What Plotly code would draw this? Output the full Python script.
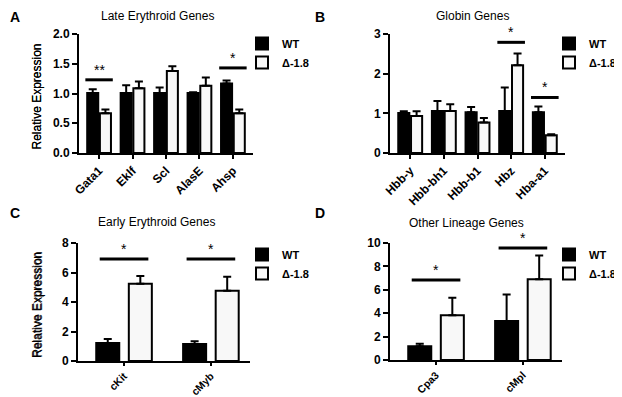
import plotly.graph_objects as go

# ---------------- data ----------------
genes_A = ["Gata1", "Eklf", "Scl", "AlasE", "Ahsp"]
wt_A = [1.01, 1.01, 1.01, 1.01, 1.17]
wt_A_err = [0.06, 0.13, 0.09, 0.01, 0.05]
del_A = [0.67, 1.09, 1.38, 1.13, 0.67]
del_A_err = [0.06, 0.11, 0.08, 0.14, 0.06]
sig_A = [("Gata1", 1.23, "**"), ("Ahsp", 1.43, "*")]

genes_B = ["Hbb-y", "Hbb-bh1", "Hbb-b1", "Hbz", "Hba-a1"]
wt_B = [1.01, 1.06, 1.03, 1.06, 1.03]
wt_B_err = [0.04, 0.25, 0.13, 0.59, 0.14]
del_B = [0.93, 1.06, 0.77, 2.21, 0.45]
del_B_err = [0.12, 0.17, 0.11, 0.30, 0.02]
sig_B = [("Hbz", 2.79, "*"), ("Hba-a1", 1.40, "*")]

genes_C = ["cKit", "cMyb"]
wt_C = [1.22, 1.15]
wt_C_err = [0.28, 0.19]
del_C = [5.23, 4.77]
del_C_err = [0.53, 0.94]
sig_C = [("cKit", 6.91, "*"), ("cMyb", 6.91, "*")]

genes_D = ["Cpa3", "cMpl"]
wt_D = [1.18, 3.33]
wt_D_err = [0.20, 2.27]
del_D = [3.82, 6.90]
del_D_err = [1.50, 2.04]
sig_D = [("Cpa3", 6.84, "*"), ("cMpl", 9.57, "*")]

titles = ["Late Erythroid Genes", "Globin Genes", "Early Erythroid Genes", "Other Lineage Genes"]
letters = ["A", "B", "C", "D"]
series_names = ["WT", "\u0394-1.8"]
y_ranges = [2, 3, 8, 10]
y_dticks = [0.5, 1, 2, 2]
y_formats = [".1f", "d", "d", "d"]

# ---------------- layout helpers ----------------
# the page body has an 8 px margin, so the figure is drawn 8 px smaller and
# all positions below (in window pixels) are shifted by that amount
OFF = 8
W, H = 622 - OFF, 397 - OFF
FONT = "Liberation Sans, Arial, sans-serif"

def px_x(p):
    return (p - OFF) / W

def px_y(p):
    return 1 - (p - OFF) / H

panels = [
    dict(genes=genes_A, wt=wt_A, wte=wt_A_err, dl=del_A, dle=del_A_err, sig=sig_A,
         xd=(79, 253), yd=(34, 153), xr=(-0.6, 4.6), bw=0.33, off=0.025, half=0.41,
         leg=(242, 29), title=(157, 16), letter=(9, 8), xfs=12, xtl=4),
    dict(genes=genes_B, wt=wt_B, wte=wt_B_err, dl=del_B, dle=del_B_err, sig=sig_B,
         xd=(390, 565), yd=(34, 153), xr=(-0.6, 4.6), bw=0.33, off=0.025, half=0.41,
         leg=(549, 29), title=(472, 16), letter=(314, 8), xfs=12, xtl=4),
    dict(genes=genes_C, wt=wt_C, wte=wt_C_err, dl=del_C, dle=del_C_err, sig=sig_C,
         xd=(78, 250), yd=(243, 361), xr=(-0.53, 1.45), bw=0.265, off=0.055, half=0.28,
         leg=(242, 240), title=(156, 222), letter=(9, 213), xfs=10.5, xtl=3),
    dict(genes=genes_D, wt=wt_D, wte=wt_D_err, dl=del_D, dle=del_D_err, sig=sig_D,
         xd=(390, 562), yd=(243, 360), xr=(-0.53, 1.45), bw=0.265, off=0.055, half=0.28,
         leg=(549, 240), title=(466, 223), letter=(314, 213), xfs=10.5, xtl=3),
]

fig = go.Figure()
layout = dict(
    template="none",
    width=W, height=H, margin=dict(l=0, r=0, t=0, b=0, autoexpand=False),
    paper_bgcolor="white", plot_bgcolor="white",
    font=dict(family=FONT, color="black", size=12),
    barmode="overlay", showlegend=True,
)
shapes = []
annotations = []

for i, p in enumerate(panels):
    n = "" if i == 0 else str(i + 1)
    xa, ya = "x" + n, "y" + n
    leg = "legend" + n
    fills = ["black", "#f8f8f8"]
    vals = [(p["wt"], p["wte"]), (p["dl"], p["dle"])]
    offsets = [-p["bw"] - p["off"], p["off"]]
    for k in range(2):
        fig.add_trace(go.Bar(
            x=p["genes"], y=vals[k][0], name=series_names[k],
            xaxis=xa, yaxis=ya, legend=leg,
            width=p["bw"], offset=offsets[k],
            marker=dict(color=fills[k], line=dict(color="black", width=2)),
            error_y=dict(type="data", array=vals[k][1], symmetric=False,
                         arrayminus=[0] * len(vals[k][1]),
                         color="black", thickness=2, width=4),
        ))
    layout["xaxis" + n] = dict(
        domain=[px_x(p["xd"][0]), px_x(p["xd"][1])], anchor=ya,
        range=list(p["xr"]), type="category", automargin=False,
        showline=True, linecolor="black", linewidth=2,
        ticks="outside", ticklen=p["xtl"], tickwidth=2, tickcolor="black",
        tickangle=-45, showgrid=False, zeroline=False,
        tickfont=dict(family=FONT, size=p["xfs"], weight="bold"),
    )
    layout["yaxis" + n] = dict(
        domain=[px_y(p["yd"][1]), px_y(p["yd"][0])], anchor=xa, automargin=False,
        range=[0, y_ranges[i]], dtick=y_dticks[i], tickformat=y_formats[i],
        showline=True, linecolor="black", linewidth=2,
        ticks="outside", ticklen=5, tickwidth=2, tickcolor="black",
        showgrid=False, zeroline=False,
        tickfont=dict(family=FONT, size=12, weight="bold"),
    )
    layout[leg] = dict(
        x=px_x(p["leg"][0]), y=px_y(p["leg"][1]), xanchor="left", yanchor="top",
        bgcolor="rgba(0,0,0,0)", font=dict(family=FONT, size=11, weight="bold"),
        tracegroupgap=0, itemsizing="constant",
    )
    # significance bars
    for gene, level, label in p["sig"]:
        idx = p["genes"].index(gene)
        shapes.append(dict(type="line", xref=xa, yref=ya,
                           x0=idx - p["half"], x1=idx + p["half"], y0=level, y1=level,
                           line=dict(color="black", width=3)))
        annotations.append(dict(x=idx, y=level, xref=xa, yref=ya, text=label,
                                showarrow=False, yanchor="bottom", yshift=0,
                                font=dict(family=FONT, size=14)))
    # panel title
    annotations.append(dict(x=px_x(p["title"][0]), y=px_y(p["title"][1]), xref="paper", yref="paper",
                            text=titles[i], showarrow=False, xanchor="center", yanchor="middle",
                            font=dict(family=FONT, size=12)))
    # panel letter (top-left corner of its box)
    annotations.append(dict(x=px_x(p["letter"][0]), y=px_y(p["letter"][1]), xref="paper", yref="paper",
                            text="<b>" + letters[i] + "</b>", showarrow=False,
                            xanchor="left", yanchor="top" if i < 2 else "middle",
                            borderpad=0, font=dict(family=FONT, size=14)))
    # y-axis title
    annotations.append(dict(x=px_x(37), y=px_y((p["yd"][0] + p["yd"][1]) / 2 + 3),
                            xref="paper", yref="paper", text="Relative Expression",
                            textangle=-90, showarrow=False, xanchor="center", yanchor="middle",
                            font=dict(family=FONT, size=12)))

layout["shapes"] = shapes
layout["annotations"] = annotations
fig.update_layout(**layout)
fig.write_html("out.html")
